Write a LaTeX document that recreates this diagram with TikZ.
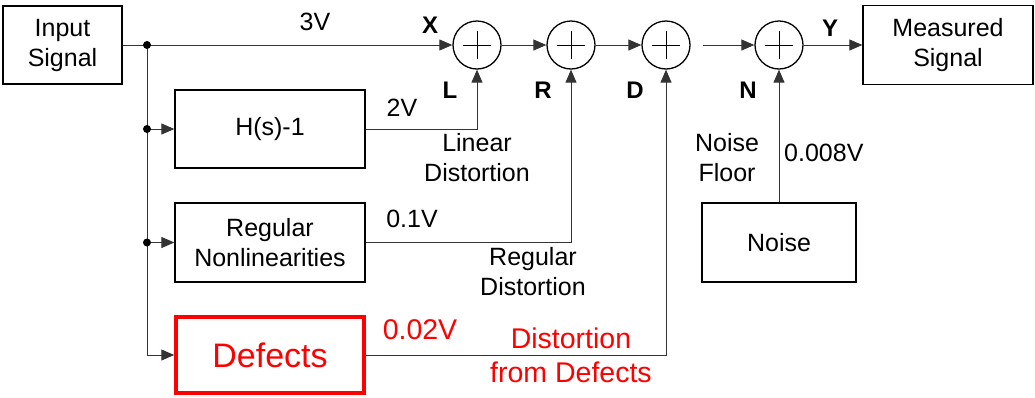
\documentclass[tikz,border=0pt]{standalone}
\usepackage{fontspec}
\setmainfont{Liberation Sans}
\usetikzlibrary{arrows.meta}
\tikzset{
  blk/.style={draw=black, line width=1.3pt, inner sep=0pt, align=center,
    font=\fontsize{25}{30}\selectfont},
  sumnode/.style={draw=black, line width=1.3pt, circle, minimum size=48pt, inner sep=0pt,
    path picture={\draw[line width=1pt] ([xshift=-14pt]path picture bounding box.center) -- ([xshift=14pt]path picture bounding box.center);
                  \draw[line width=1pt] ([yshift=-14pt]path picture bounding box.center) -- ([yshift=14pt]path picture bounding box.center);}},
  conn/.style={draw=black!80, line width=1pt},
  arr/.style={conn, -{Triangle[length=13pt,width=11pt]}},
  lbl/.style={inner sep=0pt, align=center, font=\fontsize{25}{30}\selectfont},
  redlbl/.style={inner sep=0pt, align=center, text=red, font=\fontsize{28.5}{34}\selectfont},
  sig/.style={inner sep=0pt, font=\fontsize{24}{28}\selectfont\bfseries},
  jdot/.style={fill=black},
}
\begin{document}
\begin{tikzpicture}[x=1pt,y=-1pt]
\useasboundingbox (0,0) rectangle (1035,397);

% blocks
\node[blk, minimum width=119pt, minimum height=78pt] (in) at (62.5,45) {Input\\Signal};
\node[blk, minimum width=190pt, minimum height=78pt] (H) at (270,129) {H(s)-1};
\node[blk, minimum width=190pt, minimum height=79pt] (reg) at (270,242.5) {Regular\\Nonlinearities};
\node[blk, draw=red, text=red, line width=3.5pt, minimum width=188pt, minimum height=76pt,
      font=\fontsize{34}{40}\selectfont] (def) at (270,355) {Defects};
\node[blk, minimum width=154pt, minimum height=79pt] (noise) at (779,242.5) {Noise};
\node[blk, minimum width=170pt, minimum height=79pt] (meas) at (948,45) {Measured\\Signal};

% summing junctions
\node[sumnode] (X) at (477,45) {};
\node[sumnode] (R) at (571,45) {};
\node[sumnode] (D) at (666,45) {};
\node[sumnode] (N) at (779,45) {};

% junction points
\coordinate (j1) at (147,45);
\coordinate (j2) at (147,129);
\coordinate (j3) at (147,242.5);
\coordinate (dn) at (703,45);

% connectors
\draw[arr] (in.east) -- (X.west);
\draw[arr] (j1) |- (def.west);
\draw[arr] (j2) -- (H.west);
\draw[arr] (j3) -- (reg.west);
\draw[arr] (H.east) -| (X.south);
\draw[arr] (reg.east) -| (R.south);
\draw[arr] (def.east) -| (D.south);
\draw[arr] (noise.north) -- (N.south);
\draw[arr] (X.east) -- (R.west);
\draw[arr] (R.east) -- (D.west);
\draw[arr] (dn) -- (N.west);
\draw[arr] (N.east) -- (meas.west);

\fill[jdot] (j1) circle (4pt);
\fill[jdot] (j2) circle (4pt);
\fill[jdot] (j3) circle (4pt);

% signal names
\node[sig] (lx) at (430,25) {X};
\node[sig] (ll) at (450,90) {L};
\node[sig] (lr) at (543,90) {R};
\node[sig] (ld) at (635,90) {D};
\node[sig] (ln) at (748,90) {N};
\node[sig] (ly) at (830,28) {Y};

% labels
\node[lbl] (v3) at (315,22) {3V};
\node[lbl] (v2) at (402,108) {2V};
\node[lbl] (lin) at (477,157.5) {Linear\\Distortion};
\node[lbl] (v01) at (412,219) {0.1V};
\node[lbl] (rd) at (533,272) {Regular\\Distortion};
\node[redlbl] (v002) at (420,330) {0.02V};
\node[redlbl] (dd) at (571,355) {Distortion\\from Defects};
\node[lbl] (nf) at (727,158) {Noise\\Floor};
\node[lbl, anchor=west] (v0008) at (784,153) {0.008V};
\end{tikzpicture}
\end{document}
